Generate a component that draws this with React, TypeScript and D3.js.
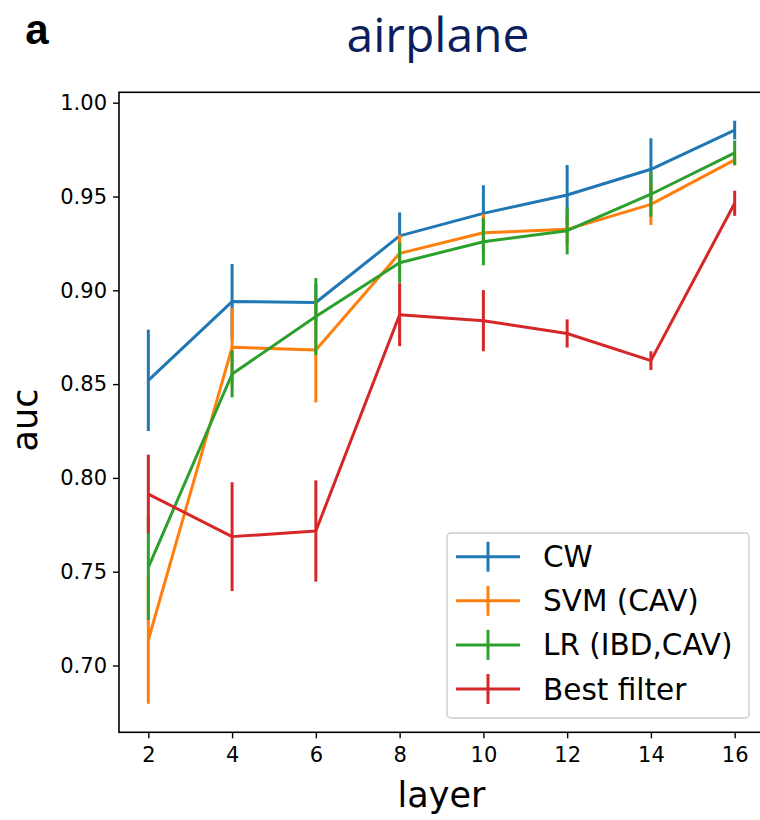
import React, { useEffect, useRef } from 'react';
import * as d3 from 'd3';

// layers on the x axis
const layers = [2, 4, 6, 8, 10, 12, 14, 16];

// series names, in legend order
const seriesNames = ['CW', 'SVM (CAV)', 'LR (IBD,CAV)', 'Best filter'];
const seriesColors = ['#1f77b4', '#ff7f0e', '#2ca02c', '#d62728'];

// mean auc per layer
const cwAuc = [0.852, 0.894, 0.8935, 0.929, 0.941, 0.9508, 0.9645, 0.9854];
const svmAuc = [0.7136, 0.8696, 0.8682, 0.9197, 0.9307, 0.9325, 0.9458, 0.9695];
const lrAuc = [0.7523, 0.8554, 0.886, 0.9147, 0.9259, 0.9318, 0.9512, 0.9733];
const bestAuc = [0.7914, 0.7687, 0.7717, 0.887, 0.8838, 0.877, 0.8625, 0.9464];

// error (half length of the bar)
const cwErr = [0.027, 0.02, 0.01, 0.0125, 0.015, 0.016, 0.0165, 0.005];
const svmErr = [0.034, 0.021, 0.028, 0.01, 0.01, 0.008, 0.011, 0.003];
const lrErr = [0.028, 0.0125, 0.0205, 0.0107, 0.0126, 0.0126, 0.012, 0.0065];
const bestErr = [0.021, 0.029, 0.027, 0.0168, 0.0163, 0.0075, 0.005, 0.0067];

const yTicks = [0.7, 0.75, 0.8, 0.85, 0.9, 0.95, 1.0];

const App = () => {
  const ref = useRef<SVGSVGElement>(null);

  useEffect(() => {
    const svg = d3.select(ref.current);
    svg.selectAll('*').remove();

    const left = 119, right = 764, top = 92.3, bottom = 732.3;

    const x = d3.scaleLinear().domain([1.3, 16.7]).range([left, right]);
    const y = d3.scaleLinear().domain([0.6644, 1.00554]).range([bottom, top]);

    const tickFont = 'DejaVu Sans, sans-serif';
    const lw = 3;

    // title and panel letter
    svg.append('text')
      .attr('x', 37).attr('y', 44)
      .attr('text-anchor', 'middle')
      .style('font-family', 'Liberation Sans, Arial, sans-serif')
      .style('font-weight', 'bold')
      .style('font-size', '42px')
      .text('a');

    svg.append('text')
      .attr('x', 438).attr('y', 52)
      .attr('text-anchor', 'middle')
      .style('font-family', 'Open Sans, sans-serif')
      .style('font-size', '48px')
      .style('fill', '#0c1f5c')
      .text('airplane');

    const series = [
      { values: cwAuc, errs: cwErr },
      { values: svmAuc, errs: svmErr },
      { values: lrAuc, errs: lrErr },
      { values: bestAuc, errs: bestErr },
    ];

    const plot = svg.append('g');

    const line = d3.line<number>()
      .x((d, i) => x(layers[i]))
      .y(d => y(d));

    series.forEach((s, k) => {
      const g = plot.append('g');
      g.selectAll('line.err')
        .data(s.values)
        .enter().append('line')
        .attr('class', 'err')
        .attr('x1', (d, i) => x(layers[i]))
        .attr('x2', (d, i) => x(layers[i]))
        .attr('y1', (d, i) => y(d - s.errs[i]))
        .attr('y2', (d, i) => y(d + s.errs[i]))
        .attr('stroke', seriesColors[k])
        .attr('stroke-width', lw);

      g.append('path')
        .datum(s.values)
        .attr('d', line)
        .attr('fill', 'none')
        .attr('stroke', seriesColors[k])
        .attr('stroke-width', lw)
        .attr('stroke-linejoin', 'round');
    });

    // axes frame
    const frame = svg.append('g');
    frame.append('rect')
      .attr('x', left).attr('y', top)
      .attr('width', right - left).attr('height', bottom - top)
      .attr('fill', 'none')
      .attr('stroke', '#000')
      .attr('stroke-width', 1.6);

    const xAxis = svg.append('g')
      .attr('transform', 'translate(0,' + bottom + ')')
      .call(d3.axisBottom(x).tickValues(layers).tickSize(6).tickPadding(9).tickFormat(d3.format('d')));
    xAxis.select('.domain').remove();
    xAxis.selectAll('line').attr('stroke-width', 1.4);
    xAxis.selectAll('text')
      .style('font-family', tickFont)
      .style('font-size', '21px')
      .style('fill', '#000');

    const yAxis = svg.append('g')
      .attr('transform', 'translate(' + left + ',0)')
      .call(d3.axisLeft(y).tickValues(yTicks).tickSize(6).tickPadding(6).tickFormat(d3.format('.2f')));
    yAxis.select('.domain').remove();
    yAxis.selectAll('line').attr('stroke-width', 1.4);
    yAxis.selectAll('text')
      .style('font-family', tickFont)
      .style('font-size', '21px')
      .style('fill', '#000');

    // axis labels
    svg.append('text')
      .attr('x', x(9)).attr('y', 807)
      .attr('text-anchor', 'middle')
      .style('font-family', tickFont)
      .style('font-size', '35px')
      .text('layer');

    svg.append('text')
      .attr('transform', 'translate(37,420) rotate(-90)')
      .attr('text-anchor', 'middle')
      .style('font-family', tickFont)
      .style('font-size', '35px')
      .text('auc');

    // legend
    const legend = svg.append('g');
    legend.append('rect')
      .attr('x', 447).attr('y', 533)
      .attr('width', 302).attr('height', 185)
      .attr('rx', 4)
      .attr('fill', 'rgba(255,255,255,0.8)')
      .attr('stroke', '#cccccc')
      .attr('stroke-width', 1.4);

    seriesNames.forEach((name, k) => {
      const cy = 556.7 + k * 44.1;
      legend.append('line')
        .attr('x1', 456).attr('x2', 520).attr('y1', cy).attr('y2', cy)
        .attr('stroke', seriesColors[k]).attr('stroke-width', lw);
      legend.append('line')
        .attr('x1', 488).attr('x2', 488).attr('y1', cy - 15).attr('y2', cy + 15)
        .attr('stroke', seriesColors[k]).attr('stroke-width', lw);
      legend.append('text')
        .attr('x', 543).attr('y', cy + 10.5)
        .style('font-family', tickFont)
        .style('font-size', '29.5px')
        .text(name);
    });
  }, []);

  return (
    <svg ref={ref} width={760} height={820}
      style={{ position: 'absolute', left: 0, top: 0, background: '#fff' }} />
  );
};

export default App;
